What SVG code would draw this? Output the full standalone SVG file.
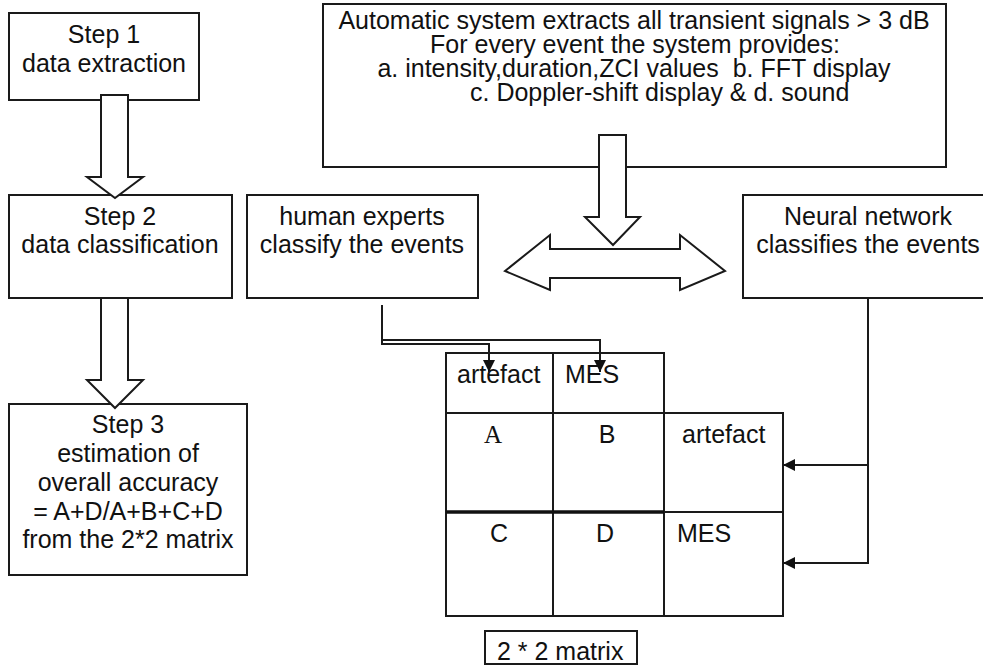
<svg xmlns="http://www.w3.org/2000/svg" width="983" height="666" viewBox="0 0 983 666">
  <defs>
    <marker id="tri" viewBox="0 0 10 10" refX="10" refY="5" markerWidth="12" markerHeight="12" markerUnits="userSpaceOnUse" orient="auto">
      <path d="M0,0 L10,5 L0,10 Z" fill="#111"/>
    </marker>
    <style>
      .box { fill: #fff; stroke: #1a1a1a; stroke-width: 2; }
      .blk { fill: #fff; stroke: #1a1a1a; stroke-width: 2; stroke-linejoin: miter; }
      .ln { fill: none; stroke: #1a1a1a; stroke-width: 2; }
      .t { font-family: "Liberation Sans", Arial, sans-serif; font-size: 25px; fill: #111; }
      .c { text-anchor: middle; }
      .serif { font-family: "Liberation Serif", "Times New Roman", serif; }
    </style>
  </defs>

  <rect width="983" height="666" fill="#fff"/>

  <!-- Left column: the three steps -->
  <g id="step1">
    <rect class="box" x="9" y="13" width="190" height="87"/>
    <text class="t c" x="104" y="43">Step 1</text>
    <text class="t c" x="104" y="72">data extraction</text>
  </g>
  <g id="step2">
    <rect class="box" x="9" y="195" width="223" height="103"/>
    <text class="t c" x="120" y="225">Step 2</text>
    <text class="t c" x="120" y="253">data classification</text>
  </g>
  <g id="step3">
    <rect class="box" x="9" y="404" width="238" height="171"/>
    <text class="t c" x="128" y="433">Step 3</text>
    <text class="t c" x="128" y="462">estimation of</text>
    <text class="t c" x="128" y="491">overall accuracy</text>
    <text class="t c" x="128" y="520">= A+D/A+B+C+D</text>
    <text class="t c" x="128" y="548">from the 2*2 matrix</text>
  </g>

  <!-- Top: automatic extraction -->
  <g id="auto">
    <rect class="box" x="323" y="4" width="623" height="163"/>
    <text class="t c" x="634" y="29">Automatic system extracts all transient signals &gt; 3 dB</text>
    <text class="t c" x="635" y="53">For every event the system provides:</text>
    <text class="t c" x="634" y="77" xml:space="preserve">a. intensity,duration,ZCI values  b. FFT display</text>
    <text class="t" x="470" y="101">c. Doppler-shift display &amp; d. sound</text>
  </g>

  <g id="human">
    <rect class="box" x="247" y="195" width="231" height="103"/>
    <text class="t c" x="362" y="225">human experts</text>
    <text class="t c" x="362" y="253">classify the events</text>
  </g>

  <g id="neural">
    <rect class="box" x="743" y="195" width="252" height="103"/>
    <text class="t c" x="868" y="225">Neural network</text>
    <text class="t c" x="868" y="253">classifies the events</text>
  </g>

  <!-- 2 x 2 confusion matrix -->
  <g id="matrix">
    <path class="ln" d="M446,353 H664 V413 H783 V616 H446 Z"/>
    <path class="ln" d="M446,413 H664"/>
    <path class="ln" d="M553,353 V616"/>
    <path class="ln" d="M664,413 V616"/>
    <path class="ln" d="M664,512 H783"/>
    <path fill="none" stroke="#111" stroke-width="3.5" d="M446,512 H664"/>
    <text class="t" x="457" y="383">artefact</text>
    <text class="t" x="565" y="383">MES</text>
    <text class="t c serif" x="493" y="443">A</text>
    <text class="t c" x="607" y="443">B</text>
    <text class="t" x="682" y="443">artefact</text>
    <text class="t c" x="499" y="542">C</text>
    <text class="t c" x="605" y="542">D</text>
    <text class="t" x="677" y="542">MES</text>
  </g>

  <g id="matrix-label">
    <rect class="box" x="485" y="631" width="152" height="33"/>
    <text class="t" x="497" y="660">2 * 2 matrix</text>
  </g>

  <!-- Connectors -->
  <g id="connectors">
    <!-- block arrows between steps -->
    <path class="blk" d="M101,95 H128 V177 H143 L115,198 L87,177 H101 Z"/>
    <path class="blk" d="M101,298 H128 V380 H143 L115,408 L87,380 H101 Z"/>
    <!-- extraction feeds both classifiers -->
    <path class="blk" d="M599,135 H626 V217 H640 L613,245 L585,217 H599 Z"/>
    <path class="blk" d="M505,271 L550,235 V249 H680 V235 L725,271 L680,290 V278 H550 V290 Z"/>
    <!-- human expert labels to matrix columns -->
    <path class="ln" d="M382,305 V344 H489 V372" marker-end="url(#tri)"/>
    <path class="ln" d="M382,340 H600 V372" marker-end="url(#tri)"/>
    <!-- neural network labels to matrix rows -->
    <path class="ln" d="M868,298 V563 H783" marker-end="url(#tri)"/>
    <path class="ln" d="M868,465 H783" marker-end="url(#tri)"/>
  </g>
</svg>
